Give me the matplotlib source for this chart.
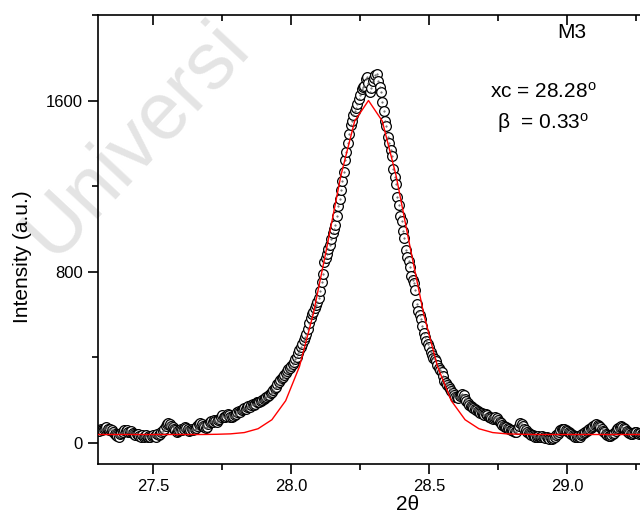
import matplotlib
matplotlib.use("Agg")
import matplotlib.pyplot as plt
from matplotlib.ticker import MultipleLocator

plt.rcParams['font.family'] = ['Liberation Sans', 'DejaVu Sans']
plt.rcParams['mathtext.fontset'] = 'custom'
plt.rcParams['mathtext.rm'] = 'Liberation Sans'
plt.rcParams['mathtext.it'] = 'Liberation Sans:italic'

# ---- data ----
x_start = 27.300
x_step = 0.005
intensity = [
    # 27.300 - 27.495
    60, 55, 65, 58, 62, 70, 72, 65, 58, 66, 60, 50, 42, 35, 30, 28, 38, 45, 52, 58,
    55, 60, 52, 48, 55, 45, 40, 35, 42, 38, 30, 28, 34, 25, 30, 36, 28, 32, 26, 30,
    # 27.500 -
    35, 30, 28, 38, 34, 42, 48, 55, 65, 78, 88, 92, 85, 80, 72, 65, 58, 52, 55, 60,
    64, 58, 66, 72, 68, 62, 56, 60, 66, 58, 62, 70, 78, 85, 90, 86, 80, 72, 68, 75,
    85, 95, 102, 98, 105, 100, 96, 104, 112, 120, 128, 122, 118, 126, 132, 128, 122, 118, 124, 130,
    136, 142, 148, 145, 152, 158, 162, 158, 165, 172, 168, 175, 180, 178, 182, 188, 192, 190, 196, 200,
    205, 210, 214, 218, 222, 230, 238, 246, 255, 262, 272, 282, 292, 300, 308, 316, 325, 334, 342, 350,
    # 28.000 -
    358, 368, 378, 390, 402, 418, 432, 448, 462, 478, 495, 510, 530, 560, 585, 600, 613, 628, 642, 660,
    675, 710, 750, 790, 845, 865, 880, 905, 925, 950, 980, 1000, 1020, 1060, 1105, 1140, 1180, 1225, 1267, 1320,
    1360, 1400, 1445, 1485, 1505, 1530, 1550, 1565, 1585, 1605, 1628, 1655, 1662, 1668, 1700, 1708, 1680, 1640, 1660, 1690,
    1705, 1718, 1722, 1690, 1665, 1640, 1595, 1550, 1505, 1480, 1430, 1400, 1370, 1340, 1280, 1240, 1210, 1150, 1110, 1060,
    1035, 990, 955, 900, 870, 850, 820, 780, 760, 745, 715, 650, 615, 595, 580, 545, 515, 495, 475, 460,
    # 28.500 -
    445, 425, 410, 398, 390, 380, 365, 350, 338, 330, 310, 290, 280, 268, 258, 252, 240, 230, 222, 215,
    212, 208, 218, 225, 228, 222, 205, 195, 185, 178, 172, 168, 162, 158, 152, 148, 142, 138, 140, 135,
    130, 132, 128, 122, 118, 115, 110, 116, 120, 114, 108, 98, 90, 84, 78, 75, 72, 68, 64, 60,
    58, 55, 52, 50, 62, 78, 90, 88, 78, 66, 58, 50, 44, 38, 34, 36, 32, 28, 26, 30,
    24, 28, 32, 26, 22, 25, 20, 18, 22, 16, 20, 26, 34, 42, 50, 58, 62, 66, 64, 60,
    # 29.000 -
    56, 50, 44, 38, 34, 30, 28, 26, 30, 28, 34, 40, 46, 52, 56, 60, 64, 68, 72, 78,
    82, 86, 84, 78, 72, 64, 56, 48, 42, 36, 32, 30, 34, 40, 46, 54, 62, 68, 72, 76,
    74, 70, 64, 56, 50, 44, 40, 42, 46, 50, 48, 44, 42, 46, 40, 44, 50, 46, 42, 44,
    40,
]
two_theta = [round(x_start + i * x_step, 3) for i in range(len(intensity))]

fit_x = [27.28, 27.33, 27.38, 27.43, 27.48, 27.53, 27.58, 27.63, 27.68, 27.73,
         27.78, 27.83, 27.88, 27.93, 27.98, 28.03, 28.08, 28.13, 28.18, 28.23,
         28.28, 28.33, 28.38, 28.43, 28.48, 28.53, 28.58, 28.63, 28.68, 28.73,
         28.78, 28.83, 28.88, 28.93, 28.98, 29.03, 29.08, 29.13, 29.18, 29.23,
         29.28, 29.33]
fit_y = [38, 38, 38, 38, 38, 38, 38, 38, 38, 39,
         41, 47, 65, 107, 196, 356, 602, 919, 1249, 1504,
         1600, 1504, 1249, 919, 602, 356, 196, 107, 65, 47,
         41, 39, 38, 38, 38, 38, 38, 38, 38, 38,
         38, 38]

xlim = (27.3, 29.3)
ylim = (-100, 2000)
x_major = [27.5, 28.0, 28.5, 29.0]
x_labels = ['27.5', '28.0', '28.5', '29.0']
y_major = [0, 800, 1600]
y_labels = ['0', '800', '1600']

# ---- figure ----
fig = plt.figure(figsize=(6.4, 5.15), dpi=100)
ax = fig.add_axes([98/640, 51/515, 552/640, 449/515])
ax.set_facecolor('none')

# faint watermark behind the plot
fig.text(53/640, 1 - 260/515, 'Universi', rotation=47, rotation_mode='anchor',
         ha='left', va='baseline', fontsize=58, color='#e4e4e4', zorder=-5)

ax.plot(two_theta, intensity, linestyle='none', marker='o', markersize=7.0,
        markerfacecolor='white', markeredgecolor='black', markeredgewidth=0.9, zorder=2)
ax.plot(two_theta, intensity, linestyle='none', marker='.', markersize=1.0,
        color='#555555', zorder=2.5)
ax.plot(fit_x, fit_y, color='red', linewidth=1.0, zorder=3)

ax.set_xlim(*xlim)
ax.set_ylim(*ylim)
ax.set_xticks(x_major)
ax.set_xticklabels(x_labels)
ax.set_yticks(y_major)
ax.set_yticklabels(y_labels)
ax.xaxis.set_minor_locator(MultipleLocator(0.25))
ax.yaxis.set_minor_locator(MultipleLocator(400))

for s in ax.spines.values():
    s.set_linewidth(1.2)

ax.tick_params(axis='both', which='major', labelsize=12, width=1.2, length=7, pad=4)
ax.tick_params(axis='both', which='minor', width=1.2, length=4)
ax.tick_params(axis='x', which='both', direction='out', top=True)
ax.tick_params(axis='y', which='both', direction='out', right=True)
# top and right ticks point inward
for t in ax.xaxis.get_major_ticks() + ax.xaxis.get_minor_ticks():
    t.tick2line.set_marker(3)
for t in ax.yaxis.get_major_ticks() + ax.yaxis.get_minor_ticks():
    t.tick2line.set_marker(0)

fig.text(23/640, 1 - 257/515, 'Intensity (a.u.)', fontsize=15, rotation=90,
         ha='center', va='center')
fig.text(408/640, 1 - 505/515, '2θ', fontsize=15, ha='center', va='center')

fig.text(572/640, 1 - 33/515, 'M3', fontsize=15, ha='center', va='center')
fig.text(543/640, 1 - 92/515, r'xc = 28.28$^\mathrm{o}$', fontsize=15,
         ha='center', va='center')
fig.text(543/640, 1 - 123/515, r'β  = 0.33$^\mathrm{o}$', fontsize=15,
         ha='center', va='center')

fig.savefig('out.png', dpi=100)
